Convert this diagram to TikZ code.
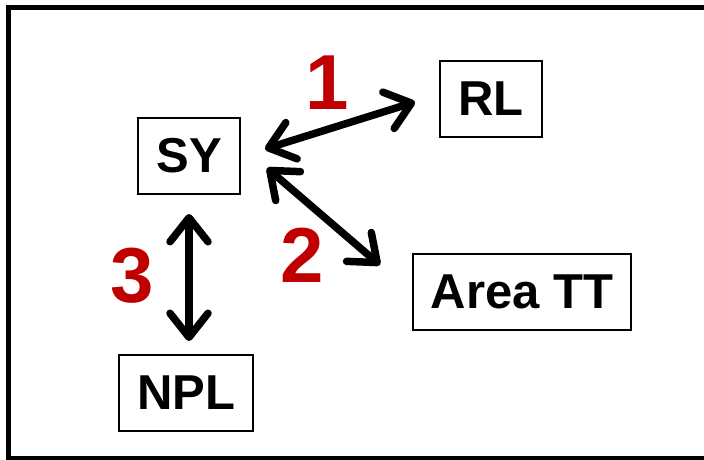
\documentclass[tikz,border=0pt]{standalone}
\usepackage{fontspec}
\setmainfont{Liberation Sans}
\usetikzlibrary{arrows.meta}
\definecolor{numred}{HTML}{C00000}
\begin{document}
\begin{tikzpicture}[x=1pt,y=-1pt,
  box/.style={draw=black, line width=1.8pt, minimum height=76pt, inner sep=0pt,
    font=\fontsize{49}{49}\selectfont\bfseries},
  biarrow/.style={line width=7.5pt, line cap=round,
    {Straight Barb[length=24pt,width=38pt,round]}-{Straight Barb[length=24pt,width=38pt,round]}},
  num/.style={text=numred, font=\fontsize{78}{78}\selectfont\bfseries, inner sep=0pt}]
\useasboundingbox (0,0) rectangle (704,459);
% outer frame
\draw[line width=5.5pt] (8.5,7.3) rectangle (708,459);
% boxes
\node[box, minimum width=102pt] (SY) at (189,156) {SY};
\node[box, minimum width=102pt] (RL) at (491,99) {RL};
\node[box, minimum width=218pt] (AT) at (522,292) {Area TT};
\node[box, minimum width=134pt] (NPL) at (186,393) {NPL};
% connector ends
\coordinate (a1s) at (265,149);
\coordinate (a1e) at (415,102);
\coordinate (a2s) at (267,168);
\coordinate (a2e) at (380,265);
\coordinate (a3s) at (189,214);
\coordinate (a3e) at (189,341);
\draw[biarrow] (a1s) -- (a1e);
\draw[biarrow] (a2s) -- (a2e);
\draw[biarrow] (a3s) -- (a3e);
% labels
\node[num] (n1) at (327,83) {1};
\node[num] (n2) at (302,255) {2};
\node[num] (n3) at (132,276) {3};
\end{tikzpicture}
\end{document}
